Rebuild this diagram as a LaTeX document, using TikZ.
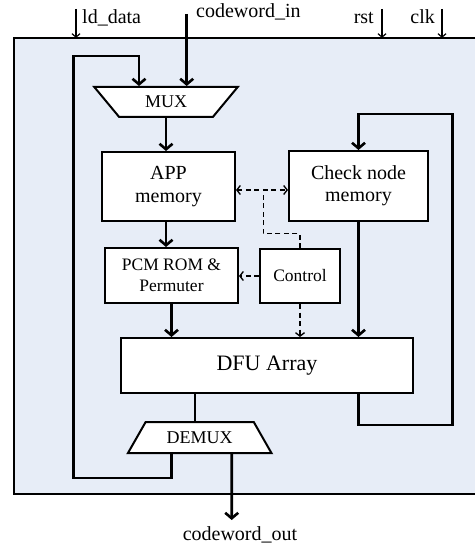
\documentclass[tikz,border=0pt]{standalone}
\usepackage{fontspec}
\setmainfont{Liberation Serif}
\usetikzlibrary{arrows.meta, calc, shapes.geometric}
\definecolor{bgfill}{RGB}{231,237,247}
\tikzset{
  arr/.style={-{Straight Barb[length=5.5pt,width=13pt]}, line width=2.6pt, draw=black},
  wire/.style={line width=2.6pt, draw=black},
  sarr/.style={-{Straight Barb[length=3.5pt,width=8pt]}, line width=1.2pt, draw=black},
  darr/.style={-{Straight Barb[length=3.5pt,width=9pt]}, line width=1.3pt, dash pattern=on 5pt off 3.5pt},
  ddarr/.style={{Straight Barb[length=3.5pt,width=9pt]}-{Straight Barb[length=3.5pt,width=9pt]},
    line width=1.3pt, dash pattern=on 5pt off 3.5pt},
  dline/.style={line width=1.3pt, dash pattern=on 5pt off 3.5pt},
  blk/.style={draw=black, line width=2pt, fill=white, align=center, inner sep=2pt},
  mx/.style={draw=black, line width=2pt, fill=white, trapezium, trapezium stretches=true, inner sep=0pt},
  lab/.style={inner sep=0pt, font=\fontsize{20}{24}\selectfont},
  frame/.style={draw=black, line width=1.6pt}
}
\begin{document}
\begin{tikzpicture}[x=1pt, y=-1pt]
\useasboundingbox (0,0) rectangle (475,545);
% ---------- frame ----------
\fill[bgfill] (14,38) rectangle (475,494);
\coordinate (fnw) at (14,38);
\coordinate (fsw) at (14,494);
\draw[frame] (475,38) -- (fnw) -- (fsw) -- (475,494);
% ---------- blocks ----------
\node[mx, trapezium angle=133, minimum width=144pt, minimum height=30pt,
  font=\fontsize{18}{20}\selectfont] (mux) at (166,102) {MUX};
\node[blk, minimum width=133pt, minimum height=69pt, font=\fontsize{20}{23}\selectfont]
  (app) at (168.5,186.5) {APP\\memory};
\node[blk, minimum width=139pt, minimum height=70pt, font=\fontsize{20}{22}\selectfont]
  (chk) at (358.5,186) {Check node\\memory};
\node[blk, minimum width=133pt, minimum height=55pt, font=\fontsize{17.5}{21}\selectfont]
  (pcm) at (171.5,275.5) {PCM ROM \&\\Permuter};
\node[blk, minimum width=80pt, minimum height=54pt, font=\fontsize{17.5}{21}\selectfont]
  (ctrl) at (300,276) {Control};
\node[blk, minimum width=292pt, minimum height=55pt, font=\fontsize{22}{26}\selectfont]
  (dfu) at (267,365.5) {DFU Array};
\node[mx, trapezium angle=48, minimum width=144pt, minimum height=31pt,
  font=\fontsize{18}{20}\selectfont] (demux) at (199.7,437.7) {DEMUX};
% ---------- port labels ----------
\node[lab, anchor=base west] (ldlab) at (82,23.3) {ld\_data};
\node[lab, anchor=base west] (cwin) at (196,17.5) {codeword\_in};
\node[lab, anchor=base east] (rstlab) at (374,23.3) {rst};
\node[lab, anchor=base east] (clklab) at (435,23.3) {clk};
\node[lab, anchor=base] (cwout) at (240,540) {codeword\_out};
% ---------- free ends ----------
\coordinate (ldsrc) at (76,9);
\coordinate (rstsrc) at (382,9);
\coordinate (clksrc) at (442,9);
\coordinate (cwsrc) at (186.7,14);
\coordinate (lloop) at (73.3,56);
\coordinate (rloop) at (452.7,114);
\coordinate (outend) at (231.7,520);
\coordinate (dbus) at (263.3,190);
% ---------- data path ----------
\draw[sarr] (ldsrc) -- (ldsrc |- fnw);
\draw[sarr] (rstsrc) -- (rstsrc |- fnw);
\draw[sarr] (clksrc) -- (clksrc |- fnw);
\draw[arr] (cwsrc) -- (cwsrc |- mux.north);
\draw[arr] ([xshift=-28pt]demux.south) -- ++(0,23.7) -| (lloop) -| ([xshift=-27pt]mux.north);
\draw[arr] (mux.south) -- (mux.south |- app.north);
\draw[arr] (mux.south |- app.south) -- (mux.south |- pcm.north);
\draw[arr] (pcm.south) -- (pcm.south |- dfu.north);
\draw[arr] (chk.south) -- (chk.south |- dfu.north);
\draw[arr] (chk.south |- dfu.south) -- ++(0,31) -| (rloop) -| (chk.north);
\draw[wire] ([xshift=-4.7pt]demux.north |- dfu.south) -- ([xshift=-4.7pt]demux.north);
\draw[arr] ([xshift=32pt]demux.south) -- (outend);
% ---------- control (dashed) ----------
\draw[ddarr] (app.east |- dbus) -- (chk.west |- dbus);
\draw[dline] (ctrl.north) -- ++(0,-14.3) -| (dbus);
\draw[darr] (ctrl.west) -- (pcm.east |- ctrl.west);
\draw[darr] (ctrl.south) -- (ctrl.south |- dfu.north);
\end{tikzpicture}
\end{document}
